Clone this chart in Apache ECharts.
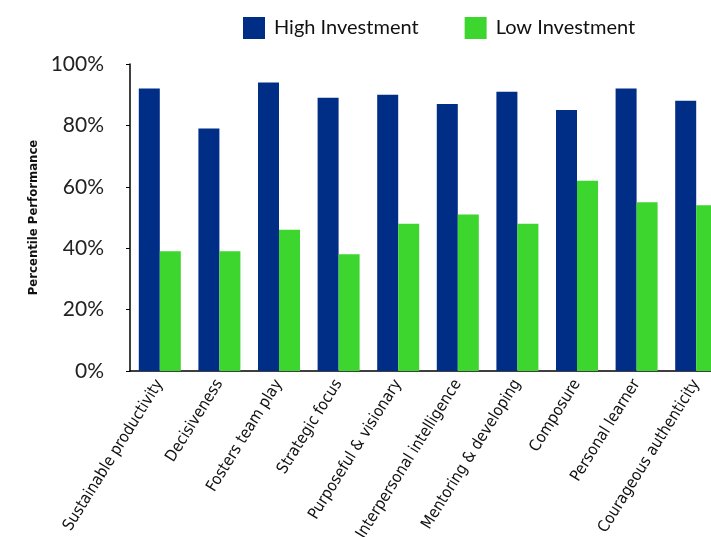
<!DOCTYPE html>
<html>
<head>
<meta charset="utf-8">
<script src="https://cdn.jsdelivr.net/npm/echarts@6/dist/echarts.min.js"></script>
<style>
  html, body { margin: 0; padding: 0; background: #fff; }
  #chart { width: 711px; height: 537px; }
</style>
</head>
<body>
<div id="chart"></div>
<script>
// competency categories
var categories = ['Sustainable productivity', 'Decisiveness', 'Fosters team play', 'Strategic focus',
  'Purposeful & visionary', 'Interpersonal intelligence', 'Mentoring & developing', 'Composure',
  'Personal learner', 'Courageous authenticity'];
var highInvestment = [92, 79, 94, 89, 90, 87, 91, 85, 92, 88];
var lowInvestment = [39, 39, 46, 38, 48, 51, 48, 62, 55, 54];
var yTicks = [0, 20, 40, 60, 80, 100];

var chart = echarts.init(document.getElementById('chart'));

var option = {
  animation: false,
  legend: {
    top: 12,
    left: 238,
    icon: 'rect',
    itemWidth: 22,
    itemHeight: 22,
    itemGap: 46,
    textStyle: { fontFamily: 'Lato', fontSize: 20, color: '#111', padding: [0, 0, 0, 4] },
    data: ['High Investment', 'Low Investment']
  },
  grid: { left: 130, right: -15, top: 64, bottom: 166, containLabel: false, outerBoundsMode: 'none' },
  xAxis: {
    type: 'category',
    data: categories,
    axisLine: { lineStyle: { color: '#000', width: 1.5 } },
    axisTick: { show: false },
    axisLabel: {
      rotate: 58,
      interval: 0,
      margin: 10,
      fontFamily: 'DejaVu Sans Condensed',
      fontSize: 16,
      color: '#111'
    }
  },
  yAxis: {
    type: 'value',
    min: yTicks[0],
    max: yTicks[yTicks.length - 1],
    interval: 20,
    name: 'Percentile Performance',
    nameLocation: 'middle',
    nameGap: 86,
    nameTextStyle: { fontFamily: 'DejaVu Sans Condensed', fontWeight: 'bold', fontSize: 13, color: '#111' },
    splitLine: { show: false },
    axisLine: { show: true, lineStyle: { color: '#000', width: 1.5 } },
    axisTick: { show: true, length: 4, lineStyle: { color: '#000' } },
    axisLabel: {
      formatter: '{value}%',
      fontFamily: 'Lato',
      fontSize: 21,
      color: '#222',
      margin: 26
    }
  },
  series: [
    {
      name: 'High Investment',
      type: 'bar',
      data: highInvestment,
      itemStyle: { color: '#002e87' },
      barWidth: 21,
      barGap: '0%'
    },
    {
      name: 'Low Investment',
      type: 'bar',
      data: lowInvestment,
      itemStyle: { color: '#3dd62e' },
      barWidth: 21,
      barGap: '0%'
    }
  ]
};

chart.setOption(option);
</script>
</body>
</html>
